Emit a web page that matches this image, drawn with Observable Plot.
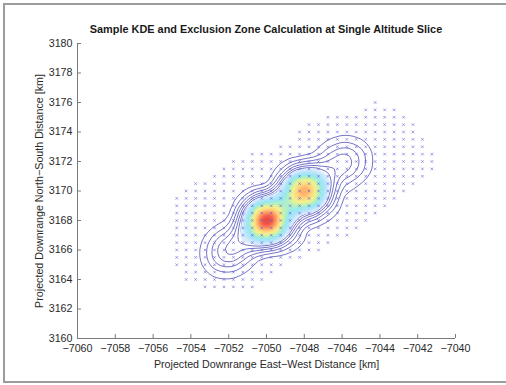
<!DOCTYPE html>
<html><head><meta charset="utf-8">
<script src="https://cdn.jsdelivr.net/npm/d3@7"></script>
<script src="https://cdn.jsdelivr.net/npm/@observablehq/plot@0.6"></script>
<style>
html,body{margin:0;padding:0;background:#fff;}
#frame{position:absolute;left:3px;top:3px;width:503px;height:380px;border-top:2px solid #9c9c9c;border-left:2px solid #9c9c9c;border-bottom:2px solid #9c9c9c;box-sizing:border-box;}
#chart{position:absolute;left:0;top:0;}
#title{position:absolute;left:77px;width:378px;top:23px;text-align:center;font:bold 10.9px "Liberation Sans",Arial,sans-serif;color:#1a1a1a;white-space:nowrap;}
</style></head><body>
<div id="frame"></div>
<div id="chart"></div>
<div id="title">Sample KDE and Exclusion Zone Calculation at Single Altitude Slice</div>
<script>
// Axis ticks
const xTicks = [-7060, -7058, -7056, -7054, -7052, -7050, -7048, -7046, -7044, -7042, -7040];
const yTicks = [3160, 3162, 3164, 3166, 3168, 3170, 3172, 3174, 3176, 3178, 3180];

// Evaluation grid ("x" markers): per row, first and last marker x, spacing 0.5 km
const gridStep = 0.5;
const gridRowY    = [3176, 3175.5, 3175, 3174.5, 3174, 3173.5, 3173, 3172.5, 3172, 3171.5, 3171, 3170.5, 3170, 3169.5, 3169, 3168.5, 3168, 3167.5, 3167, 3166.5, 3166, 3165.5, 3165, 3164.5, 3164, 3163.5];
const gridRowXMin = [-7044.25, -7044.75, -7046.75, -7047.75, -7048.25, -7048.25, -7049.25, -7050.75, -7051.75, -7052.25, -7052.75, -7053.75, -7054.25, -7054.75, -7054.75, -7054.75, -7054.75, -7054.75, -7054.75, -7054.75, -7054.75, -7054.75, -7054.75, -7054.25, -7054.25, -7053.25];
const gridRowXMax = [-7044.25, -7043.25, -7042.75, -7042.25, -7042.25, -7041.75, -7041.75, -7041.25, -7041.25, -7041.25, -7041.75, -7042.25, -7042.75, -7043.25, -7043.75, -7044.25, -7044.75, -7045.25, -7045.75, -7046.75, -7047.25, -7048.25, -7049.25, -7049.75, -7050.25, -7050.75];

// KDE sample points (weighted)
const kdeX = [-7052.3, -7051.7, -7051.0, -7050.0, -7049.0, -7048.6, -7048.0, -7046.8, -7047.0, -7046.2, -7045.5];
const kdeY = [3165.7, 3166.2, 3167.0, 3168.0, 3169.0, 3167.4, 3170.0, 3169.6, 3171.0, 3171.9, 3172.1];
const kdeW = [0.14, 0.13, 0.06, 1.0, 0.08, 0.06, 0.85, 0.05, 0.05, 0.13, 0.11];
const lineLevels = 20;   // contour lines
const fillLevels = 40;   // shaded density bands
const fillCut = 0.28;    // shading starts at this fraction of the peak

const gridPts = [];
gridRowY.forEach((y, i) => {
  const n = Math.round((gridRowXMax[i] - gridRowXMin[i]) / gridStep);
  for (let k = 0; k <= n; k++) gridPts.push({x: gridRowXMin[i] + k * gridStep, y});
});
const kde = kdeX.map((x, i) => ({x, y: kdeY[i], w: kdeW[i]}));

const stopR = [0.28, 0.38, 0.48, 0.58, 0.68, 0.78, 0.88, 0.95, 1.0];
const stopC = ["#e0f1ff", "#b6e3fb", "#94e9f0", "#c0f2b2", "#f3f18e", "#ffd27c", "#ff925e", "#f35a4a", "#d94242"];
const jetish = d3.scaleLinear().domain(stopR).range(stopC).clamp(true);
function kdeColor(t) {
  const r = (1 + (fillLevels - 2) * t) / fillLevels;
  return r < fillCut ? "none" : jetish(r);
}

const fmt = d3.format("d");
const axisColor = "#7a7a7a";
const plot = Plot.plot({
  width: 506, height: 385,
  marginLeft: 77, marginRight: 51, marginTop: 43, marginBottom: 47,
  style: {fontFamily: '"Liberation Sans", Arial, sans-serif', fontSize: "10.7px", color: "#2a2a2a", background: "transparent"},
  x: {domain: [-7060, -7040], ticks: xTicks, tickFormat: fmt, tickSize: 0, tickPadding: 6,
      label: "Projected Downrange East\u2212West Distance [km]", labelAnchor: "center", labelOffset: 29, labelArrow: "none"},
  y: {domain: [3160, 3180], ticks: yTicks, tickFormat: fmt, tickSize: 0, tickPadding: 5,
      label: "Projected Downrange North\u2212South Distance [km]", labelAnchor: "center", labelOffset: 42, labelArrow: "none"},
  color: {type: "linear", interpolate: kdeColor},
  marks: [
    Plot.density(kde, {x: "x", y: "y", weight: "w", bandwidth: 13, thresholds: lineLevels, stroke: "#5252b8", strokeWidth: 0.8}),
    Plot.density(kde, {x: "x", y: "y", weight: "w", bandwidth: 12, thresholds: fillLevels, fill: "density", stroke: "none"}),
    Plot.dot(gridPts, {x: "x", y: "y", symbol: "times", r: 1.3, stroke: "#5a5ad8", strokeWidth: 0.8, strokeOpacity: 0.7}),
    Plot.ruleY([3160], {stroke: axisColor}),
    Plot.ruleX([-7060], {stroke: axisColor}),
    Plot.ruleX(xTicks, {x: d => d, y1: 3160, y2: 3160.27, stroke: axisColor}),
    Plot.ruleY(yTicks, {y: d => d, x1: -7060, x2: -7059.79, stroke: axisColor})
  ]
});
document.getElementById("chart").appendChild(plot);
</script>
</body></html>
